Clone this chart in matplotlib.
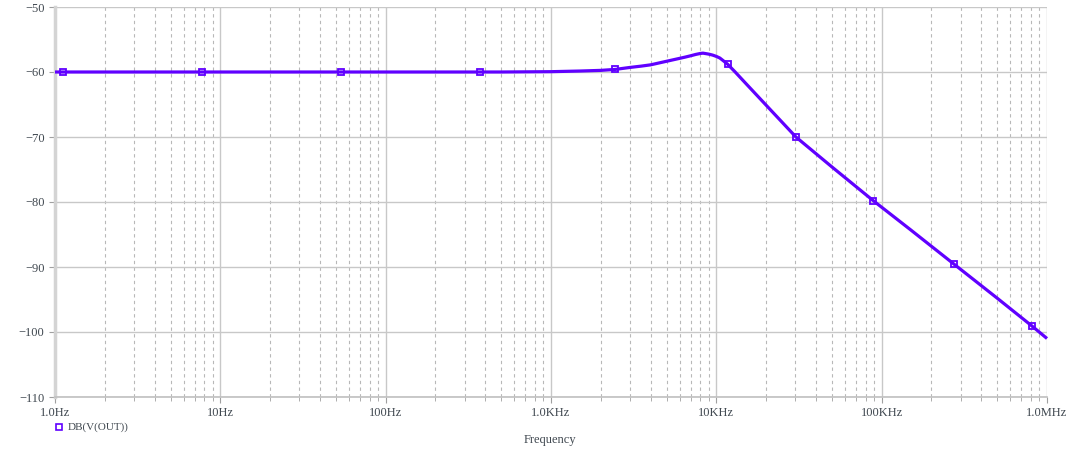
import matplotlib
matplotlib.use("Agg")
import matplotlib.pyplot as plt
from matplotlib.ticker import FixedLocator, LogLocator, NullFormatter

# trace
freq = [1, 10, 100, 500, 1000, 1500, 2000, 2450, 3000, 3500, 4000, 5000,
        6000, 6500, 7000, 7500, 8000, 8300, 9000, 9500, 10000, 10500, 11000,
        11700, 13000, 15000, 20000, 30300, 50000, 89000, 150000, 272000,
        500000, 813000, 1000000]
db = [-60.0, -60.0, -60.0, -60.0, -59.95, -59.85, -59.75, -59.6, -59.3,
      -59.1, -58.9, -58.35, -57.9, -57.7, -57.5, -57.3, -57.15, -57.1,
      -57.25, -57.4, -57.6, -57.85, -58.25, -58.8, -60.0, -61.7, -65.1,
      -70.0, -74.6, -79.8, -84.3, -89.5, -94.8, -99.1, -101.0]

marker_freq = [1.12, 7.75, 53.7, 373, 2450, 11700, 30300, 89000, 272000, 813000]
marker_db = [-60.0, -60.0, -60.0, -60.0, -59.6, -58.8, -70.0, -79.8, -89.5, -99.1]

x_ticks = [1, 10, 100, 1000, 10000, 100000, 1000000]
x_labels = ["1.0Hz", "10Hz", "100Hz", "1.0KHz", "10KHz", "100KHz", "1.0MHz"]
y_ticks = [-110, -100, -90, -80, -70, -60, -50]
y_labels = ["\u2212110", "\u2212100", "\u221290", "\u221280", "\u221270", "\u221260", "\u221250"]

trace_name = "DB(V(OUT))"
col = "#6000ff"

plt.rcParams['font.family'] = ['Liberation Serif', 'DejaVu Serif']

fig = plt.figure(figsize=(10.8, 4.5), dpi=100)
ax = fig.add_axes([55/1080, 1 - 397/450, 992/1080, 390/450])

ax.set_xscale("log")
ax.set_xlim(1, 1e6)
ax.set_ylim(-110, -50)

ax.xaxis.set_major_locator(FixedLocator(x_ticks))
ax.set_xticklabels(x_labels)
ax.xaxis.set_minor_locator(LogLocator(base=10, subs=range(2, 10), numticks=20))
ax.xaxis.set_minor_formatter(NullFormatter())
ax.set_yticks(y_ticks)
ax.set_yticklabels(y_labels)

ax.grid(which="major", axis="both", color="#c8c8c8", lw=1.0, ls="-")
ax.grid(which="minor", axis="x", color="#b8b8b8", lw=0.8, ls=(0, (3, 3)))
ax.set_axisbelow(True)

for s in ["top", "right"]:
    ax.spines[s].set_visible(False)
ax.spines["left"].set_color("#d4d4d4")
ax.spines["left"].set_linewidth(2.5)
ax.spines["bottom"].set_color("#c0c0c0")
ax.spines["bottom"].set_linewidth(1.2)

ax.tick_params(axis="both", which="major", colors="#a0a0a0", length=4,
               labelsize=9, labelcolor="#404850")
ax.tick_params(axis="x", which="minor", colors="#a0a0a0", length=3)

ax.plot(freq, db, color=col, lw=2.3, solid_capstyle="butt",
        solid_joinstyle="round", clip_on=False, zorder=3)
ax.plot(marker_freq, marker_db, ls="none", marker="s", ms=5, mfc="none",
        mec=col, mew=1.3, zorder=4)

fig.text(550/1080, 1 - 440/450, "Frequency", ha="center", va="center",
         fontsize=9, color="#404850")
fig.lines.append(plt.Line2D([59/1080], [1 - 427/450], transform=fig.transFigure,
                            marker="s", ms=5, mfc="none", mec=col, mew=1.2, ls="none"))
fig.text(68/1080, 1 - 427/450, trace_name, ha="left", va="center",
         fontsize=8, color="#404850")

fig.savefig("out.png", dpi=100)
